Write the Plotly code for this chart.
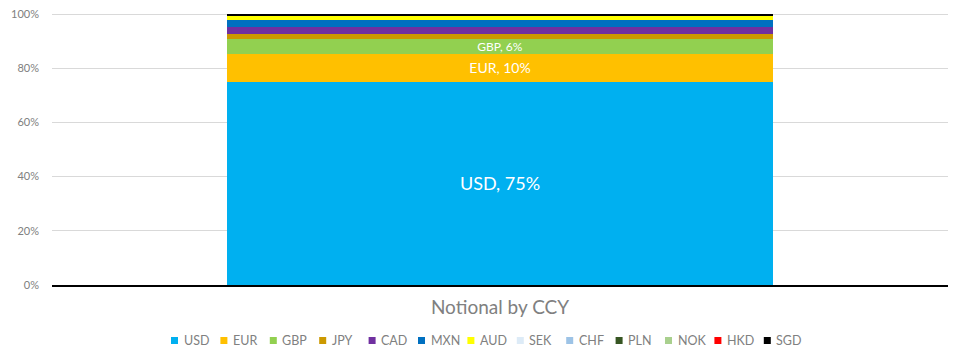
import plotly.graph_objects as go

category = ["Notional by CCY"]
currencies = ["USD", "EUR", "GBP", "JPY", "CAD", "MXN", "AUD", "SEK", "CHF", "PLN", "NOK", "HKD", "SGD"]
shares = [75.0, 10.2, 5.6, 2.0, 2.5, 2.4, 1.8, 0.04, 0.04, 0.02, 0.02, 0.02, 0.36]
labels = ["USD, 75%", "EUR, 10%", "GBP, 6%", "", "", "", "", "", "", "", "", "", ""]
colors = ["#00B0F0", "#FFC000", "#92D050", "#CC9900", "#7030A0", "#0070C0", "#FFFF00",
          "#DDEBF7", "#9DC3E6", "#375623", "#A9D08E", "#FF0000", "#000000"]
label_sizes = [18, 14, 12, 10, 10, 10, 10, 10, 10, 10, 10, 10, 10]
tick_vals = [0, 20, 40, 60, 80, 100]
tick_text = ["0%", "20%", "40%", "60%", "80%", "100%"]

FONT = "Lato, 'Open Sans', sans-serif"
GREY = "#808080"

# the page body has an 8px margin, so the figure is drawn 8px in from the window edge
OFF = 8
W, H = 962 - OFF, 358 - OFF
ML, MR, MT, MB = 52 - OFF, 14, 13 - OFF, 73
PW, PH = W - ML - MR, H - MT - MB

fig = go.Figure()
for cur, val, lab, col, sz in zip(currencies, shares, labels, colors, label_sizes):
    fig.add_trace(go.Bar(
        x=category, y=[val], name=cur,
        marker=dict(color=col, line=dict(width=0)),
        text=[lab] if lab else None,
        textposition="inside" if lab else "none",
        insidetextanchor="middle",
        textfont=dict(color="white", size=sz, family=FONT),
        constraintext="none",
        hoverinfo="name+y",
        showlegend=False,
    ))

# compact legend (swatch + label), laid out in window pixels then converted to paper coords
def px_x(px):
    return (px - OFF - ML) / PW

def px_y(py):
    return (H - MB - (py - OFF)) / PH

legend_left = 171.0
pitch = 49.4
sw = 7
sy0, sy1 = 337, 344
shapes, annotations = [], []
for i, (cur, col) in enumerate(zip(currencies, colors)):
    x0 = legend_left + i * pitch
    shapes.append(dict(type="rect", xref="paper", yref="paper",
                       x0=px_x(x0), x1=px_x(x0 + sw), y0=px_y(sy1), y1=px_y(sy0),
                       fillcolor=col, line=dict(width=0), layer="above"))
    annotations.append(dict(text=cur, xref="paper", yref="paper",
                            x=px_x(x0 + sw + 3.5), y=px_y(340.5),
                            xanchor="left", yanchor="middle", showarrow=False,
                            font=dict(size=12.5, color=GREY, family=FONT)))

fig.update_layout(
    barmode="stack",
    bargap=0.39,
    width=W, height=H,
    margin=dict(l=ML, r=MR, t=MT, b=MB, autoexpand=False),
    paper_bgcolor="white", plot_bgcolor="white",
    font=dict(family=FONT, color=GREY),
    showlegend=False,
    shapes=shapes,
    annotations=annotations,
    xaxis=dict(showgrid=False, showline=True, linecolor="black", linewidth=2,
               tickfont=dict(size=19, color=GREY, family=FONT), ticks="",
               ticklabelstandoff=4),
    yaxis=dict(range=[0, 100.4], tickvals=tick_vals, ticktext=tick_text,
               showgrid=True, gridcolor="#D9D9D9", gridwidth=1, zeroline=False,
               showline=False, ticks="", ticklabelstandoff=12,
               ticklabeloverflow="allow",
               tickfont=dict(size=11, color=GREY, family=FONT)),
)

fig.write_html("out.html")
